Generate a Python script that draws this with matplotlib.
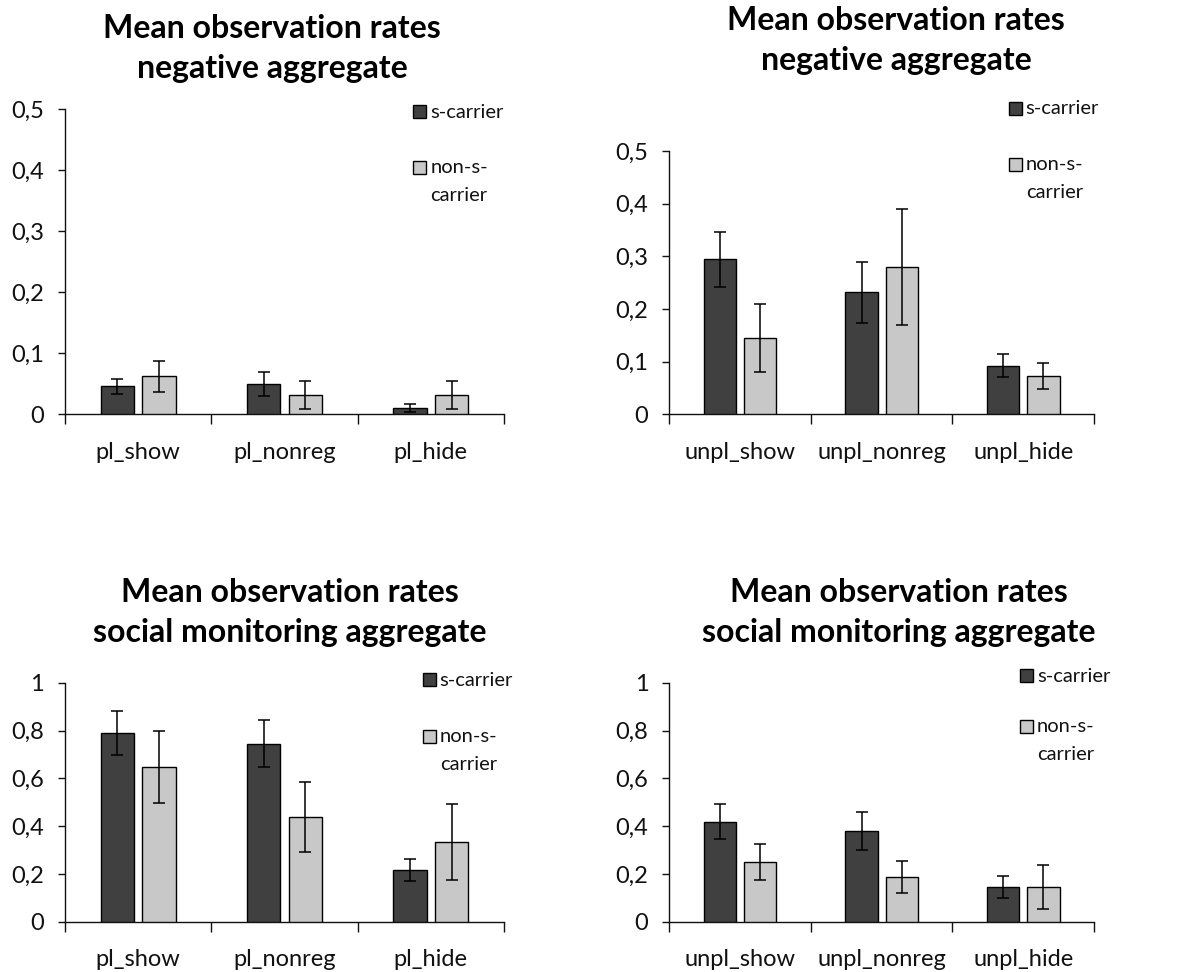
import numpy as np
import matplotlib
matplotlib.use("Agg")
import matplotlib.pyplot as plt
from matplotlib.patches import Rectangle
from matplotlib.ticker import FuncFormatter, FixedLocator

# ---------------------------------------------------------------- data
cats_pl = ["pl_show", "pl_nonreg", "pl_hide"]
cats_unpl = ["unpl_show", "unpl_nonreg", "unpl_hide"]
series = ["s-carrier", "non-s-carrier"]

neg_pl_s = [0.046, 0.050, 0.010]
neg_pl_s_err = [0.012, 0.020, 0.007]
neg_pl_n = [0.062, 0.031, 0.031]
neg_pl_n_err = [0.025, 0.023, 0.023]

neg_unpl_s = [0.294, 0.232, 0.092]
neg_unpl_s_err = [0.053, 0.058, 0.022]
neg_unpl_n = [0.145, 0.280, 0.073]
neg_unpl_n_err = [0.065, 0.110, 0.025]

soc_pl_s = [0.790, 0.744, 0.216]
soc_pl_s_err = [0.093, 0.098, 0.045]
soc_pl_n = [0.646, 0.437, 0.333]
soc_pl_n_err = [0.151, 0.147, 0.158]

soc_unpl_s = [0.418, 0.380, 0.146]
soc_unpl_s_err = [0.074, 0.081, 0.045]
soc_unpl_n = [0.250, 0.188, 0.146]
soc_unpl_n_err = [0.077, 0.068, 0.091]

title_line1 = "Mean observation rates"
title_neg = "negative aggregate"
title_soc = "social monitoring aggregate"

# ---------------------------------------------------------------- style
DARK = "#404040"
LIGHT = "#C8C8C8"
INK = "#111111"
W, H = 1189, 972
FONT = ["Lato", "DejaVu Sans"]

plt.rcParams.update({
    "font.family": FONT,
    "axes.linewidth": 1.0,
    "axes.edgecolor": INK,
    "xtick.color": INK,
    "ytick.color": INK,
})

fig = plt.figure(figsize=(W / 100, H / 100), dpi=100)


def px_axes(l, t, r, b):
    # axes rect given in pixels (top-left origin)
    return fig.add_axes([l / W, 1 - b / H, (r - l) / W, (b - t) / H])


def comma(v, _):
    s = f"{v:.1f}".rstrip("0").rstrip(".")
    return s.replace(".", ",")


def panel(ax, cats, s_vals, s_err, n_vals, n_err, ymax, ystep):
    x = np.arange(len(cats))
    bw, off = 0.229, 0.142
    ekw = dict(ecolor="black", elinewidth=1.1, capsize=4, capthick=1.1)
    ax.bar(x - off, s_vals, bw, color=DARK, edgecolor="black", linewidth=1.0,
           yerr=s_err, error_kw=ekw, zorder=3)
    ax.bar(x + off, n_vals, bw, color=LIGHT, edgecolor="black", linewidth=1.0,
           yerr=n_err, error_kw=ekw, zorder=3)
    ax.set_xlim(-0.5, len(cats) - 0.5)
    ax.set_ylim(0, ymax)
    ax.yaxis.set_major_locator(FixedLocator(np.arange(0, ymax + 1e-9, ystep)))
    ax.yaxis.set_major_formatter(FuncFormatter(comma))
    # ticks on category boundaries, labels at the centres
    ax.set_xticks(np.arange(-0.5, len(cats), 1.0))
    ax.set_xticklabels([])
    ax.set_xticks(x, minor=True)
    ax.set_xticklabels(cats, minor=True)
    ax.tick_params(axis="x", which="major", direction="out", length=7, width=1.0)
    ax.tick_params(axis="x", which="minor", length=0, pad=20, labelsize=17,
                   labelcolor=INK)
    ax.tick_params(axis="y", direction="out", length=5, width=1.0, pad=10,
                   labelsize=17, labelcolor=INK)
    for s in ("top", "right"):
        ax.spines[s].set_visible(False)


def legend(x, y_dark, y_light):
    # pixel positions (top-left of each swatch), drawn in figure coords
    sz = 13
    for yy, col in ((y_dark, DARK), (y_light, LIGHT)):
        fig.add_artist(Rectangle((x / W, 1 - (yy + sz) / H), sz / W, sz / H,
                                 transform=fig.transFigure, facecolor=col,
                                 edgecolor="black", linewidth=1.0))
    tx = (x + sz + 4) / W
    kw = dict(ha="left", va="center", fontsize=14.5, color=INK)
    fig.text(tx, 1 - (y_dark + sz / 2 + 0.5) / H, "s-carrier", **kw)
    fig.text(tx, 1 - (y_light + sz / 2 + 0.5) / H, "non-s-", **kw)
    fig.text(tx, 1 - (y_light + sz / 2 + 28) / H, "carrier", **kw)


def titles(cx, y1, y2, line2):
    kw = dict(ha="center", va="baseline", fontsize=23, fontweight="bold",
              color="black")
    fig.text(cx / W, 1 - y1 / H, title_line1, **kw)
    fig.text(cx / W, 1 - y2 / H, line2, **kw)


ax1 = px_axes(65, 109, 504, 414.3)
panel(ax1, cats_pl, neg_pl_s, neg_pl_s_err, neg_pl_n, neg_pl_n_err, 0.5, 0.1)
ax2 = px_axes(669.3, 151, 1094, 414.3)
panel(ax2, cats_unpl, neg_unpl_s, neg_unpl_s_err, neg_unpl_n, neg_unpl_n_err,
      0.5, 0.1)
ax3 = px_axes(65, 682.7, 504, 921.7)
panel(ax3, cats_pl, soc_pl_s, soc_pl_s_err, soc_pl_n, soc_pl_n_err, 1.0, 0.2)
ax4 = px_axes(669.3, 682.7, 1094, 921.7)
panel(ax4, cats_unpl, soc_unpl_s, soc_unpl_s_err, soc_unpl_n, soc_unpl_n_err,
      1.0, 0.2)

titles(272, 38, 78, title_neg)
titles(896, 30, 70, title_neg)
titles(290, 602, 642, title_soc)
titles(899, 602, 642, title_soc)

legend(413.3, 105, 160.7)
legend(1008.7, 101.7, 158)
legend(422.7, 673, 730)
legend(1020, 669, 720)

fig.savefig("out.png", dpi=100, facecolor="white")
